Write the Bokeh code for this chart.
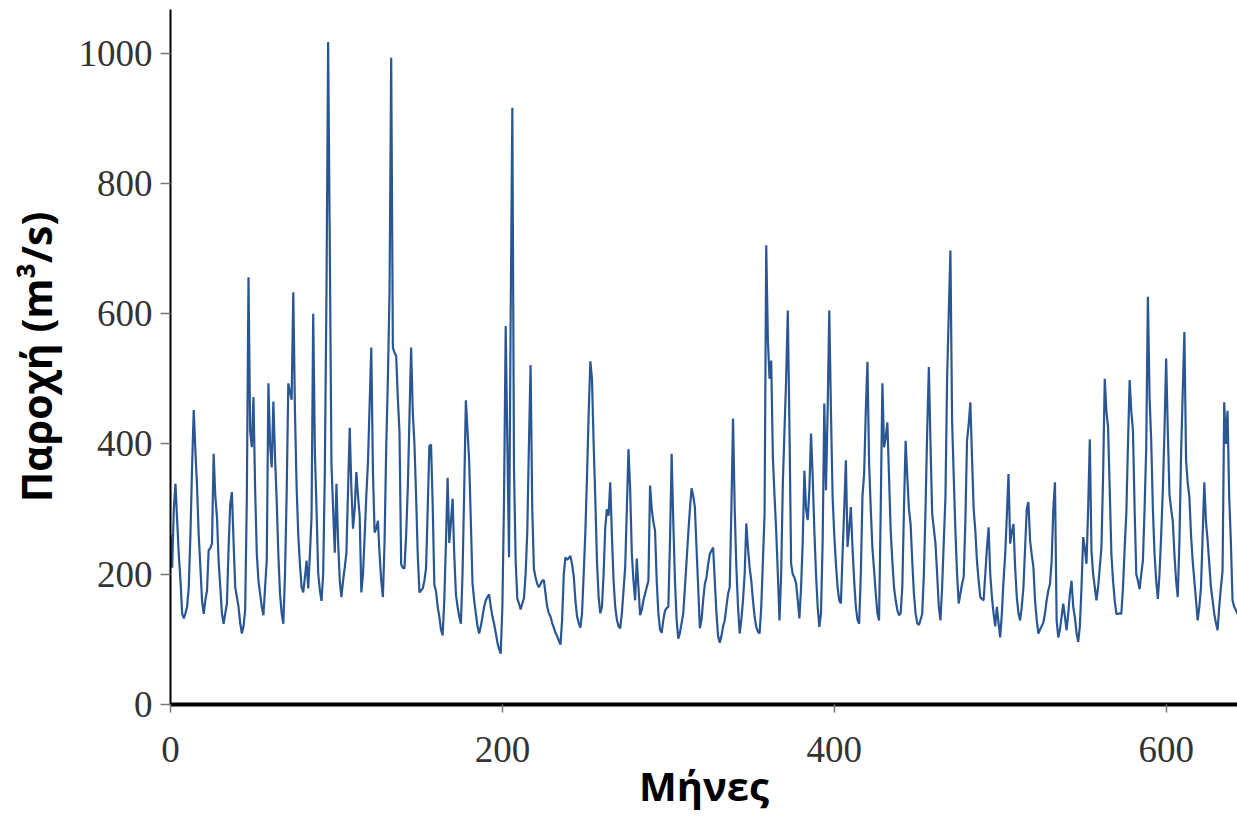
from bokeh.plotting import figure
from bokeh.models import Range1d, FixedTicker
from bokeh.embed import file_html
from bokeh.resources import INLINE

# Monthly discharge (m3/s)
flow = [
    260, 210, 300, 339, 283, 230, 191, 140, 132, 140,
    150, 180, 260, 364, 452, 390, 334, 260, 211, 160,
    139, 160, 175, 237, 240, 247, 385, 320, 288, 220,
    180, 140, 124, 140, 155, 240, 308, 326, 250, 180,
    165, 150, 125, 109, 120, 145, 318, 656, 420, 395,
    472, 330, 232, 190, 170, 150, 137, 180, 221, 493,
    400, 364, 465, 380, 313, 230, 170, 140, 124, 200,
    324, 493, 480, 468, 633, 450, 334, 260, 215, 180,
    172, 195, 221, 178, 230, 289, 600, 388, 300, 202,
    175, 159, 200, 357, 634, 1017, 700, 369, 300, 233,
    339, 250, 190, 165, 190, 210, 233, 330, 425, 332,
    270, 300, 357, 320, 289, 172, 200, 258, 320, 372,
    460, 548, 357, 264, 270, 282, 230, 190, 165, 250,
    394, 500, 634, 993, 548, 540, 535, 470, 418, 215,
    210, 209, 260, 332, 440, 548, 449, 400, 320, 230,
    172, 175, 178, 190, 209, 300, 397, 399, 307, 184,
    174, 150, 135, 115, 106, 160, 250, 348, 248, 280,
    316, 230, 169, 150, 135, 124, 202, 330, 467, 420,
    373, 280, 186, 160, 140, 120, 109, 120, 135, 150,
    160, 165, 169, 150, 135, 124, 110, 95, 85, 78,
    150, 316, 581, 400, 226, 600, 916, 362, 220, 163,
    155, 146, 155, 163, 200, 265, 400, 521, 300, 208,
    195, 185, 180, 185, 190, 191, 170, 150, 140, 135,
    125, 118, 110, 105, 98, 92, 130, 200, 226, 222,
    225, 228, 215, 197, 160, 135, 125, 118, 140, 200,
    265, 350, 447, 527, 500, 400, 316, 220, 165, 140,
    150, 200, 272, 300, 290, 341, 260, 190, 150, 130,
    120, 117, 140, 175, 211, 300, 392, 330, 232, 190,
    160, 224, 180, 137, 145, 160, 170, 180, 190, 336,
    300, 280, 267, 190, 140, 115, 110, 130, 144, 148,
    150, 250, 385, 280, 190, 130, 101, 110, 125, 140,
    180, 220, 262, 300, 332, 320, 303, 240, 180, 117,
    130, 160, 185, 195, 215, 231, 236, 241, 190, 140,
    105, 95, 105, 120, 129, 150, 170, 180, 300, 439,
    300, 211, 150, 109, 130, 160, 200, 278, 240, 210,
    190, 160, 135, 119, 112, 109, 150, 220, 292, 705,
    559, 500, 528, 380, 320, 267, 200, 129, 200, 339,
    420, 500, 605, 424, 216, 200, 195, 186, 160, 132,
    180, 250, 359, 300, 283, 330, 416, 350, 267, 200,
    150, 119, 140, 250, 462, 329, 450, 605, 450, 319,
    260, 216, 180, 160, 155, 231, 300, 375, 242, 270,
    303, 240, 190, 150, 130, 124, 200, 320, 354, 450,
    526, 370, 300, 240, 206, 170, 140, 129, 300, 493,
    395, 410, 433, 350, 267, 220, 180, 160, 145, 137,
    140, 180, 300, 405, 350, 300, 277, 220, 170, 140,
    125, 122, 130, 139, 200, 300, 420, 518, 400, 293,
    270, 247, 200, 150, 129, 180, 250, 318, 500, 600,
    697, 436, 350, 267, 200, 155, 170, 185, 196, 280,
    405, 430, 464, 380, 300, 267, 220, 190, 165, 162,
    160, 200, 240, 272, 200, 165, 140, 120, 150, 125,
    103, 140, 190, 230, 290, 354, 247, 265, 277, 210,
    165, 140, 129, 150, 180, 240, 300, 311, 252, 230,
    211, 160, 130, 109, 115, 120, 126, 140, 160, 175,
    185, 220, 300, 341, 129, 103, 115, 135, 155, 135,
    114, 140, 170, 190, 150, 134, 110, 96, 120, 180,
    257, 240, 216, 300, 407, 237, 200, 180, 160, 180,
    210, 241, 350, 500, 450, 426, 330, 231, 190, 160,
    139, 139, 140, 139, 180, 240, 293, 400, 498, 450,
    421, 300, 200, 190, 177, 200, 221, 300, 395, 626,
    472, 405, 300, 231, 190, 162, 200, 260, 329, 420,
    531, 420, 323, 300, 282, 230, 190, 165, 250, 385,
    480, 572, 375, 340, 319, 260, 220, 190, 160, 129,
    150, 180, 260, 341, 280, 252, 216, 180, 160, 139,
    125, 114, 150, 180, 205, 464, 400, 451, 319, 250,
    160, 150, 145, 139,
]
months = list(range(len(flow)))

x_ticks = [0, 200, 400, 600]
y_ticks = [0, 200, 400, 600, 800, 1000]

p = figure(width=1237, height=816, output_backend="svg", toolbar_location=None,
           x_range=Range1d(0, 643), y_range=Range1d(0, 1067),
           min_border_left=170, min_border_right=0, min_border_top=9,
           min_border_bottom=112)

p.line(months, flow, line_color="#2a5794", line_width=2.2)

p.xgrid.visible = False
p.ygrid.visible = False
p.outline_line_color = None
p.background_fill_color = "white"
p.border_fill_color = "white"

p.xaxis.ticker = FixedTicker(ticks=x_ticks)
p.yaxis.ticker = FixedTicker(ticks=y_ticks)
for ax in (p.xaxis, p.yaxis):
    ax.minor_tick_line_color = None
    ax.major_tick_in = 0
    ax.major_tick_line_color = "#777777"
    ax.major_tick_line_width = 1.5
    ax.major_label_text_font = "Liberation Serif"
    ax.major_label_text_font_size = "37px"
    ax.major_label_text_color = "#333333"
    ax.axis_label_text_font = "Open Sans"
    ax.axis_label_text_font_style = "bold"
    ax.axis_label_text_color = "black"
    ax.axis_line_color = "black"

p.yaxis.axis_label_text_font_size = "41px"
p.xaxis.axis_label_text_font_size = "40px"
p.yaxis.axis_line_width = 2
p.xaxis.axis_line_width = 4
p.yaxis.major_tick_out = 10
p.xaxis.major_tick_out = 8
p.yaxis.major_label_standoff = 8
p.xaxis.major_label_standoff = 24
p.yaxis.axis_label = "Παροχή (m³/s)"
p.xaxis.axis_label = "Μήνες"
p.yaxis.axis_label_standoff = 12
p.xaxis.axis_label_standoff = -7

open("out.html", "w").write(file_html(p, INLINE))
